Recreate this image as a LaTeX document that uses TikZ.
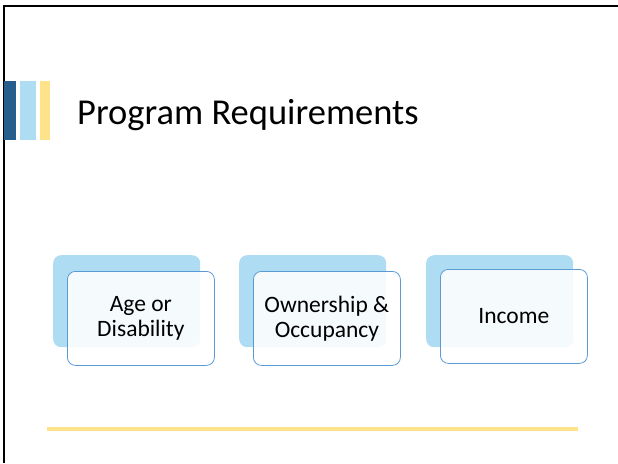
\documentclass[tikz,border=0pt]{standalone}
\usepackage{fontspec}
\setmainfont{Carlito}
\definecolor{darkbar}{HTML}{255E8C}
\definecolor{lightblue}{HTML}{ADDCF3}
\definecolor{softyellow}{HTML}{FFE38A}
\definecolor{edgeblue}{HTML}{5B9BD5}
\tikzset{
  backbox/.style={fill=lightblue, rounded corners=8pt, minimum width=147pt, minimum height=92pt, inner sep=0pt, anchor=north west},
  frontbox/.style={draw=edgeblue, line width=0.8pt, fill=white, fill opacity=0.88, text opacity=1, rounded corners=8pt, minimum width=147pt, minimum height=94pt, inner sep=0pt, anchor=north west, align=center, font=\fontsize{23.5}{25}\selectfont},
  bar/.style={anchor=north west, inner sep=0pt, minimum height=59pt}
}
\begin{document}
\begin{tikzpicture}[x=1pt,y=-1pt]
\useasboundingbox (0,0) rectangle (618,463);
\fill[white] (0,0) rectangle (618,463);
% frame
\draw[line width=1.6pt, black] (4,463) -- (4,6) -- (618,6);
% bars
\node[bar, fill=darkbar, minimum width=12pt] (b1) at (4,81) {};
\node[bar, fill=lightblue, minimum width=16pt] (b2) at (20,81) {};
\node[bar, fill=softyellow, minimum width=10pt] (b3) at (40,81) {};
% title
\node[anchor=base west, inner sep=0pt, font=\fontsize{36.5}{44}\selectfont] (title) at (77,124) {Program Requirements};
% boxes
\node[backbox] (back1) at (53,255) {};
\node[frontbox] (front1) at (67,271) {Age or\\Disability};
\node[backbox] (back2) at (239,255) {};
\node[frontbox] (front2) at (253,271) {Ownership \&\\Occupancy};
\node[backbox] (back3) at (426,255) {};
\node[frontbox] (front3) at (440,269) {Income};
% bottom line
\coordinate (l1) at (47,429);
\coordinate (l2) at (578,429);
\draw[softyellow, line width=4pt] (l1) -- (l2);
\end{tikzpicture}
\end{document}
